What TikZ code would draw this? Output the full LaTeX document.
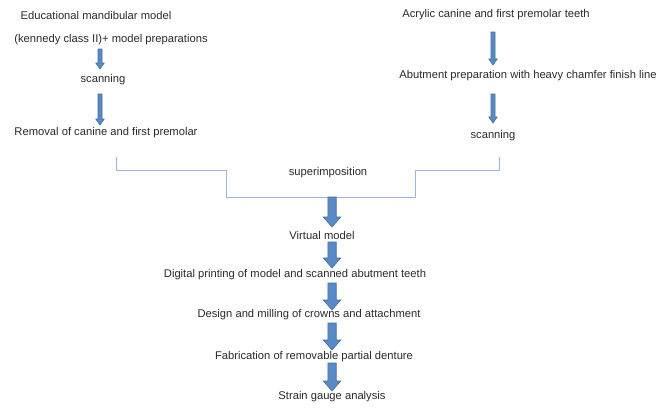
\documentclass[tikz,border=0pt]{standalone}
\usepackage{fontspec}
\setmainfont{Liberation Sans}
\usetikzlibrary{calc}
\definecolor{txt}{HTML}{2B2B2B}
\definecolor{afill}{HTML}{5A8AC6}
\definecolor{aline}{HTML}{41719C}
\definecolor{brk}{HTML}{9DB5DC}
\tikzset{
  lbl/.style={font=\fontsize{11.2}{13}\selectfont, text=txt, inner sep=0pt},
  barrow/.style={fill=afill, draw=aline, line width=0.6pt, line join=miter},
  brkline/.style={draw=brk, line width=0.9pt}
}
\newcommand\blockarrow[5]{%
  \draw[barrow] ($(#1)+(-#3,0)$) -- ($(#2)+(-#3,-#5)$) -- ($(#2)+(-#4,-#5)$) -- (#2)
    -- ($(#2)+(#4,-#5)$) -- ($(#2)+(#3,-#5)$) -- ($(#1)+(#3,0)$) -- cycle;}
\begin{document}
\begin{tikzpicture}[x=1pt,y=-1pt]
\useasboundingbox (0,0) rectangle (669,413);
\fill[white] (0,0) rectangle (669,413);
% left column
\node[lbl] (t1) at (96,15) {Educational mandibular model};
\node[lbl] (t2) at (111,40) {(kennedy class II)+ model preparations};
\node[lbl] (t3) at (103,80) {scanning};
\node[lbl] (t4) at (106,133) {Removal of canine and first premolar};
% right column
\node[lbl] (r1) at (496,15) {Acrylic canine and first premolar teeth};
\node[lbl] (r2) at (528,76) {Abutment preparation with heavy chamfer finish line};
\node[lbl] (r3) at (493,136) {scanning};
% middle
\node[lbl] (s) at (328,173) {superimposition};
\node[lbl] (v) at (322,235) {Virtual model};
\node[lbl] (d1) at (295,275) {Digital printing of model and scanned abutment teeth};
\node[lbl] (d2) at (309,315) {Design and milling of crowns and attachment};
\node[lbl] (d3) at (314,357) {Fabrication of removable partial denture};
\node[lbl] (d4) at (332,397) {Strain gauge analysis};
% arrow end points
\coordinate (la1s) at (100,49);  \coordinate (la1e) at (100,69);
\coordinate (la2s) at (100,94);  \coordinate (la2e) at (100,125);
\coordinate (ra1s) at (493,32);  \coordinate (ra1e) at (493,65);
\coordinate (ra2s) at (493,94);  \coordinate (ra2e) at (493,123);
\coordinate (m1s) at (332,197); \coordinate (m1e) at (332,227);
\coordinate (m2s) at (332,242); \coordinate (m2e) at (332,268);
\coordinate (m3s) at (332,283); \coordinate (m3e) at (332,310);
\coordinate (m4s) at (332,323); \coordinate (m4e) at (332,350);
\coordinate (m5s) at (332,363); \coordinate (m5e) at (332,391);
% bracket
\coordinate (bl) at (116,157); \coordinate (br) at (499,157);
\draw[brkline] (bl) -- (116,170) -- (226,170) -- (226,197) -- (415,197) -- (415,170) -- (499,170) -- (br);
% small arrows
\blockarrow{la1s}{la1e}{2}{4.2}{6}
\blockarrow{la2s}{la2e}{2}{4.2}{6}
\blockarrow{ra1s}{ra1e}{2}{4.2}{6}
\blockarrow{ra2s}{ra2e}{2}{4.2}{6}
% big arrows
\blockarrow{m1s}{m1e}{4.2}{8.7}{10}
\blockarrow{m2s}{m2e}{4.2}{8.7}{10}
\blockarrow{m3s}{m3e}{4.2}{8.7}{10}
\blockarrow{m4s}{m4e}{4.2}{8.7}{10}
\blockarrow{m5s}{m5e}{4.2}{8.7}{10}
\end{tikzpicture}
\end{document}
